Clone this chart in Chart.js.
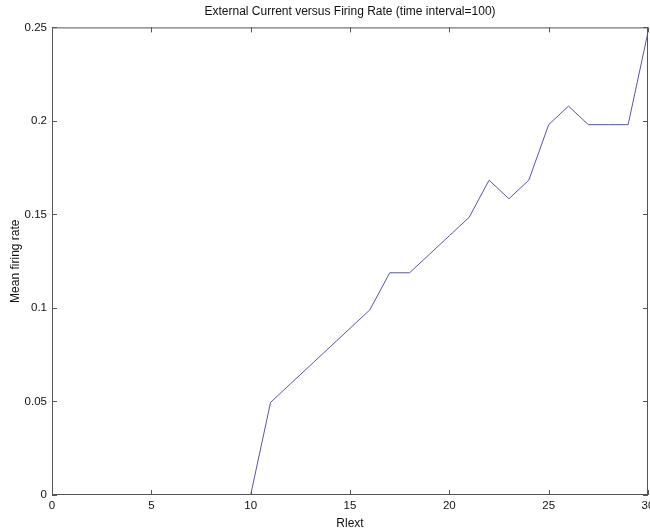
<!DOCTYPE html>
<html>
<head>
<meta charset="utf-8">
<script src="https://cdn.jsdelivr.net/npm/chart.js@4.4.0/dist/chart.umd.min.js"></script>
<style>
  html, body { margin: 0; padding: 0; background: #fff; }
  #wrap { width: 650px; height: 531px; }
</style>
</head>
<body>
<div id="wrap"><canvas id="line_chart"></canvas></div>
<script>
// Rlext values (x) and mean firing rate (y)
var rlext = [0, 1, 2, 3, 4, 5, 6, 7, 8, 9, 10, 11, 12, 13, 14, 15, 16, 17, 18, 19, 20, 21, 22, 23, 24, 25, 26, 27, 28, 29, 30];
var firingRate = [0, 0, 0, 0, 0, 0, 0, 0, 0, 0, 0,
    0.0495, 0.0594, 0.0693, 0.0792, 0.0891, 0.099, 0.1188, 0.1188, 0.1287, 0.1386,
    0.1485, 0.1683, 0.1584, 0.1683, 0.198, 0.2079, 0.198, 0.198, 0.198, 0.2475];
var xTicks = [0, 5, 10, 15, 20, 25, 30];
var yTicks = [0, 0.05, 0.1, 0.15, 0.2, 0.25];

var FONT = "'Liberation Sans', Arial, sans-serif";

// matlab style box with inward ticks on all four sides
var boxTicks = {
    id: 'boxTicks',
    afterDraw: function (chart) {
        var ctx = chart.ctx, a = chart.chartArea;
        var xs = chart.scales.x, ys = chart.scales.y;
        var len = 5;
        ctx.save();
        ctx.strokeStyle = '#555';
        ctx.lineWidth = 1;
        ctx.strokeRect(a.left + 0.5, a.top + 0.5, a.right - a.left - 1, a.bottom - a.top - 1);
        ctx.beginPath();
        xTicks.forEach(function (v) {
            var px = Math.round(xs.getPixelForValue(v)) + 0.5;
            ctx.moveTo(px, a.bottom); ctx.lineTo(px, a.bottom - len);
            ctx.moveTo(px, a.top); ctx.lineTo(px, a.top + len);
        });
        yTicks.forEach(function (v) {
            var py = Math.round(ys.getPixelForValue(v)) + 0.5;
            ctx.moveTo(a.left, py); ctx.lineTo(a.left + len, py);
            ctx.moveTo(a.right, py); ctx.lineTo(a.right - len, py);
        });
        ctx.stroke();
        ctx.restore();
    }
};

var points = rlext.map(function (x, i) { return { x: x, y: firingRate[i] }; });

new Chart(document.getElementById("line_chart").getContext("2d"), {
    type: 'line',
    data: {
        datasets: [{
            label: "Mean firing rate",
            data: points,
            borderColor: '#5656ad',
            borderWidth: 1,
            pointRadius: 0,
            fill: false,
            tension: 0
        }]
    },
    options: {
        responsive: true,
        maintainAspectRatio: false,
        animation: false,
        layout: { padding: { top: 4, right: 2, left: 0, bottom: 0 } },
        plugins: {
            legend: { display: false },
            tooltip: { enabled: false },
            title: {
                display: true,
                fullSize: false,
                text: 'External Current versus Firing Rate (time interval=100)',
                color: '#111',
                font: { family: FONT, size: 12, weight: 'normal' },
                padding: { top: 0, bottom: 9 }
            }
        },
        scales: {
            x: {
                type: 'linear',
                min: 0,
                max: 30,
                afterBuildTicks: function (scale) {
                    scale.ticks = xTicks.map(function (v) { return { value: v }; });
                },
                afterFit: function (scale) {
                    scale.height = 36;
                    scale.paddingLeft = 0;
                    scale.paddingRight = 0;
                },
                grid: { display: false, drawTicks: false },
                border: { display: false },
                ticks: {
                    color: '#111',
                    padding: 4,
                    maxRotation: 0,
                    font: { family: FONT, size: 11.5 }
                },
                title: {
                    display: true,
                    text: 'Rlext',
                    color: '#111',
                    padding: { top: 0, bottom: 0 },
                    font: { family: FONT, size: 12 }
                }
            },
            y: {
                type: 'linear',
                min: 0,
                max: 0.25,
                afterBuildTicks: function (scale) {
                    scale.ticks = yTicks.map(function (v) { return { value: v }; });
                },
                afterFit: function (scale) {
                    scale.width = 52;
                    scale.paddingTop = 0;
                    scale.paddingBottom = 0;
                },
                grid: { display: false, drawTicks: false },
                border: { display: false },
                ticks: {
                    color: '#111',
                    padding: 5,
                    font: { family: FONT, size: 11.5 },
                    callback: function (v) { return String(Math.round(v * 100) / 100); }
                },
                title: {
                    display: true,
                    text: 'Mean firing rate',
                    color: '#111',
                    padding: { top: 8, bottom: 4 },
                    font: { family: FONT, size: 12 }
                }
            }
        }
    },
    plugins: [boxTicks]
});
</script>
</body>
</html>
